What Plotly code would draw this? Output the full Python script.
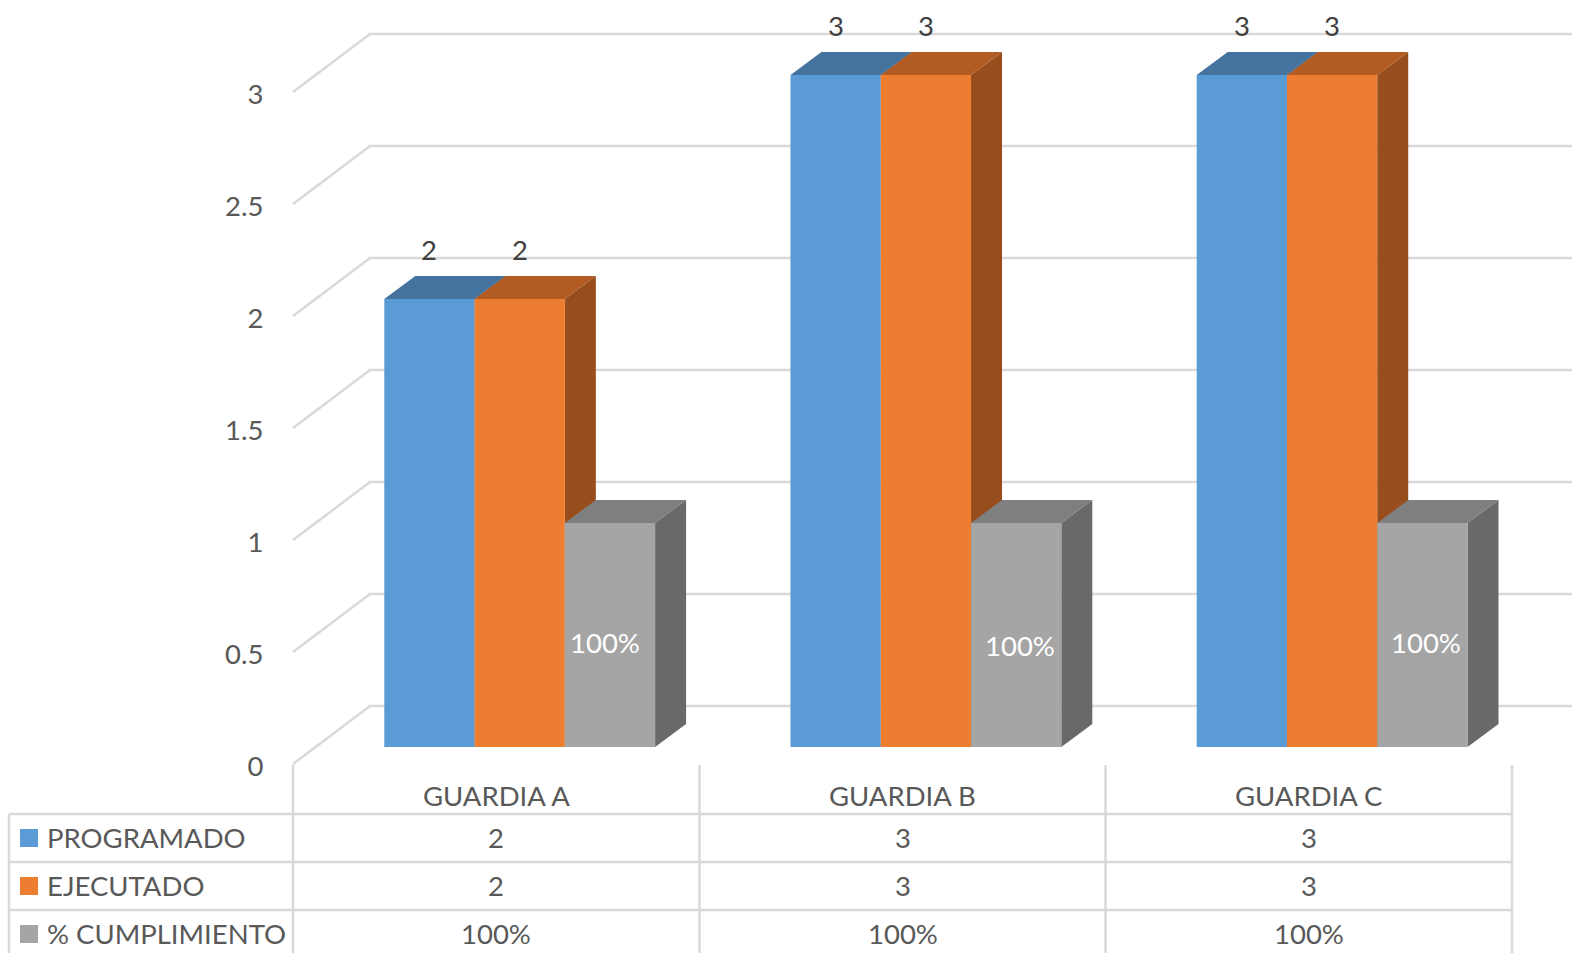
import plotly.graph_objects as go

# ---------- data ----------
categories = ["GUARDIA A", "GUARDIA B", "GUARDIA C"]
series_names = ["PROGRAMADO", "EJECUTADO", "% CUMPLIMIENTO"]
programado = [2, 3, 3]
ejecutado = [2, 3, 3]
cumplimiento = [1, 1, 1]
cumplimiento_labels = ["100%", "100%", "100%"]
y_ticks = [0, 0.5, 1, 1.5, 2, 2.5, 3]
y_tick_labels = ["0", "0.5", "1", "1.5", "2", "2.5", "3"]

# ---------- styles ----------
W, H = 1572, 954
FONT = "Lato, Carlito, sans-serif"
FS = 27.5
TXT = "#595959"
GRID = "#D9D9D9"
front = ["#5B9BD5", "#ED7D31", "#A5A5A5"]
top = ["#44739F", "#B25C23", "#7F7F7F"]
side = ["#3E6F9B", "#974D1C", "#696969"]

# ---------- scales (pixels per axis unit) ----------
CAT_PX = 406.2
UNIT_PX = 224.0
X0_PX = 519.7          # pixel of the first category on the bar plane
Y0_WALL = 764.0        # pixel of zero on the left wall
Y0_BAR = 747.0         # pixel of zero on the bar plane
BAR_W = (2 / 3) / 3    # bar width in category units
DEPTH_X = 31.0 / CAT_PX
DEPTH_Y = 23.0 / UNIT_PX
WALL_X = 77.0 / CAT_PX
WALL_Y = 58.0 / UNIT_PX
x_range = [-X0_PX / CAT_PX, (W - X0_PX) / CAT_PX]
wall_left = (293 - X0_PX) / CAT_PX
wall_range = [(Y0_WALL + 2 - H) / UNIT_PX, (Y0_WALL + 2) / UNIT_PX]
grid_shift = 2 / UNIT_PX   # tick labels sit 2 px below their gridlines
bar_range = [(Y0_BAR - H) / UNIT_PX, Y0_BAR / UNIT_PX]

series = [programado, ejecutado, cumplimiento]
idx = list(range(len(categories)))

fig = go.Figure()

# gridlines on the left and back walls
gx, gy = [], []
for v in y_ticks:
    gx += [wall_left, wall_left + WALL_X, x_range[1], None]
    gy += [v + grid_shift, v + grid_shift + WALL_Y, v + grid_shift + WALL_Y, None]
fig.add_trace(go.Scatter(x=gx, y=gy, mode="lines", yaxis="y",
                         line=dict(color=GRID, width=2.5),
                         hoverinfo="skip", showlegend=False))

# side and top faces of each bar, back to front
for s, vals in enumerate(series):
    sx, sy, tx, ty = [], [], [], []
    for i, v in zip(idx, vals):
        x0 = i + (s - 1.5) * BAR_W
        x1 = x0 + BAR_W
        sx += [x1, x1 + DEPTH_X, x1 + DEPTH_X, x1, x1, None]
        sy += [v, v + DEPTH_Y, DEPTH_Y, 0, v, None]
        tx += [x0, x1, x1 + DEPTH_X, x0 + DEPTH_X, x0, None]
        ty += [v, v, v + DEPTH_Y, v + DEPTH_Y, v, None]
    fig.add_trace(go.Scatter(x=sx, y=sy, mode="lines", fill="toself", yaxis="y2",
                             fillcolor=side[s], line=dict(width=0),
                             hoverinfo="skip", showlegend=False))
    fig.add_trace(go.Scatter(x=tx, y=ty, mode="lines", fill="toself", yaxis="y2",
                             fillcolor=top[s], line=dict(width=0),
                             hoverinfo="skip", showlegend=False))

# front faces
for s, vals in enumerate(series):
    fig.add_trace(go.Bar(x=idx, y=vals, name=series_names[s], yaxis="y3",
                         marker=dict(color=front[s], line=dict(width=0)),
                         showlegend=False))

shapes = []
annotations = []


def px(x):
    return x / W


def py(y):
    return 1 - y / H


def text(x, y, s, anchor="center", size=FS, color=TXT):
    annotations.append(dict(x=px(x), y=py(y), xref="paper", yref="paper", text=s,
                            showarrow=False, xanchor=anchor, yanchor="middle",
                            font=dict(family=FONT, size=size, color=color)))


def line(x0, y0, x1, y1):
    shapes.append(dict(type="line", xref="paper", yref="paper",
                       x0=px(x0), y0=py(y0), x1=px(x1), y1=py(y1),
                       line=dict(color=GRID, width=2.5)))


# data labels above the blue and orange bars
for s in (0, 1):
    for i, v in zip(idx, series[s]):
        annotations.append(dict(x=i + (s - 1) * BAR_W, y=v, xref="x", yref="y3", text=str(v),
                                showarrow=False, yshift=50, yanchor="middle",
                                font=dict(family=FONT, size=FS, color="#404040")))

# white labels inside the grey bars
label_dx = [-5, 4, 4]
label_dy = [-119, -122, -119]
for i, v, t, dx, dy in zip(idx, cumplimiento, cumplimiento_labels, label_dx, label_dy):
    annotations.append(dict(x=i + BAR_W, y=v, xref="x", yref="y3", text=t,
                            showarrow=False, xshift=dx, yshift=dy, yanchor="middle",
                            font=dict(family=FONT, size=FS, color="#FFFFFF")))

# data table
col_edges = [293, 699.5, 1105.5, 1512]
row_lines = [814, 862, 910]
row_centers = [837, 885, 933]
key_centers = [838, 886, 934]
for x in col_edges:
    line(x, 765, x, 953)
line(9, 814, 9, 953)
for y in row_lines:
    line(9, y, 1512, y)
for c, name in enumerate(categories):
    text((col_edges[c] + col_edges[c + 1]) / 2, 795, name)
for r, name in enumerate(series_names):
    yc = row_centers[r]
    kc = key_centers[r]
    shapes.append(dict(type="rect", xref="paper", yref="paper", x0=px(20), x1=px(38),
                       y0=py(kc - 9), y1=py(kc + 9), fillcolor=front[r], line=dict(width=0)))
    text(45, yc, name, anchor="left")
    for c in idx:
        value = cumplimiento_labels[c] if r == 2 else str(series[r][c])
        text((col_edges[c] + col_edges[c + 1]) / 2, yc, value)

fig.update_layout(
    width=W, height=H, margin=dict(l=0, r=0, t=0, b=0),
    paper_bgcolor="white", plot_bgcolor="rgba(0,0,0,0)",
    barmode="group", bargap=1 / 3, bargroupgap=0,
    shapes=shapes, annotations=annotations, showlegend=False,
    xaxis=dict(range=x_range, domain=[0, 1], showgrid=False, zeroline=False,
               showline=False, showticklabels=False, ticks="", fixedrange=True),
    yaxis=dict(range=wall_range, domain=[0, 1], anchor="free", position=293 / W, side="left",
               tickmode="array", tickvals=y_ticks, ticktext=y_tick_labels,
               ticks="outside", ticklen=24, tickcolor="rgba(0,0,0,0)",
               showgrid=False, zeroline=False, showline=False,
               tickfont=dict(family=FONT, size=FS, color=TXT), fixedrange=True),
    yaxis2=dict(range=bar_range, overlaying="y", visible=False, fixedrange=True),
    yaxis3=dict(range=bar_range, overlaying="y", visible=False, fixedrange=True),
)

fig.write_html("out.html", config={"displayModeBar": False},
               post_script="document.body.style.margin='0';document.documentElement.style.overflow='hidden';")
